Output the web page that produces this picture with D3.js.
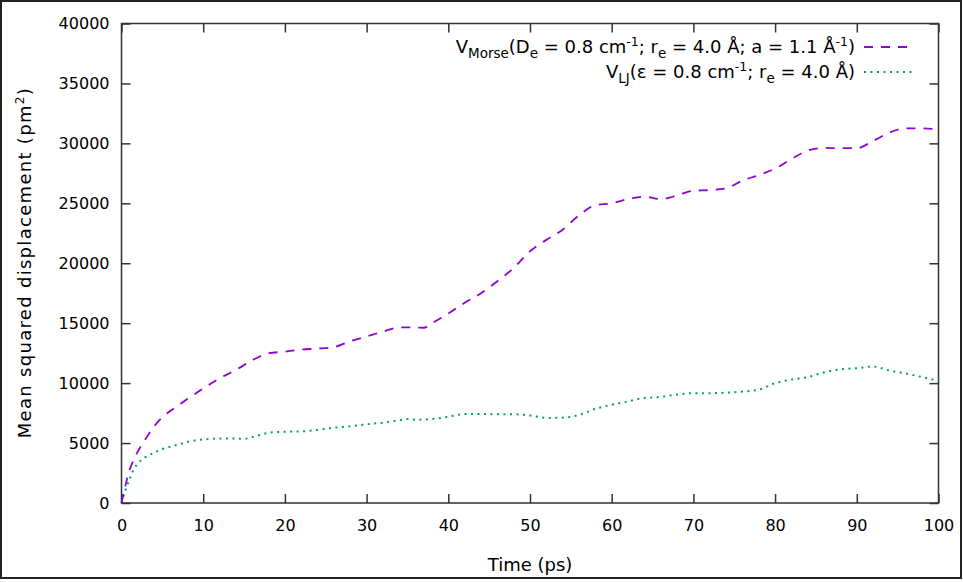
<!DOCTYPE html>
<html>
<head>
<meta charset="utf-8">
<script src="https://cdn.jsdelivr.net/npm/d3@7"></script>
<style>
body{margin:0;background:#fff;}
text{font-family:"DejaVu Sans",sans-serif;fill:#000;}
</style>
</head>
<body>
<svg id="c" width="963" height="582"></svg>
<script>
const morseT = [0,0.5,1,1.5,2,3,4,5,6,7,8,9,10,12,14,16,18,20,22,24,26,28,30,32,34,36,37,38,40,42,44,46,48,50,52,54,56,58,60,62,64,66,68,70,72,74,76,78,80,82,84,86,88,90,92,94,96,98,100];
const morseV = [0,1500,2800,3600,4300,5400,6400,7150,7700,8150,8650,9100,9550,10400,11100,11900,12500,12620,12800,12880,13000,13500,13900,14300,14650,14640,14620,15000,15800,16700,17500,18500,19600,21000,21950,22800,24000,24850,25000,25350,25550,25350,25650,26050,26100,26250,26900,27350,27900,28700,29400,29620,29600,29600,30200,30900,31250,31250,31150];
const ljT = [0,0.5,1,1.5,2,3,4,5,6,7,8,9,10,12,14,15,16,18,20,22,24,26,28,30,32,34,35,36,38,40,42,44,46,48,50,52,54,56,58,60,62,64,66,68,70,72,74,76,78,80,82,84,86,88,90,92,94,96,98,100];
const ljV = [0,1100,2000,2800,3300,3850,4200,4500,4700,4880,5080,5220,5300,5380,5380,5350,5500,5850,5950,5970,6100,6280,6400,6570,6700,6900,7000,6950,7000,7200,7420,7420,7400,7400,7300,7100,7120,7350,7850,8200,8480,8760,8850,9050,9160,9160,9200,9300,9450,10000,10300,10500,10900,11150,11250,11380,11050,10800,10500,10200];
const xTicks = [0,10,20,30,40,50,60,70,80,90,100];
const yTicks = [0,5000,10000,15000,20000,25000,30000,35000,40000];
const xLabel = "Time (ps)";
const yLabelMain = "Mean squared displacement (pm";

const svg = d3.select("#c");
const L=121.5, R=938.5, T=23.5, B=503;
const x = d3.scaleLinear().domain([0,100]).range([L,R]);
const y = d3.scaleLinear().domain([0,40000]).range([B,T]);

// outer frame
svg.append("rect").attr("x",1).attr("y",1).attr("width",960).attr("height",577)
  .attr("fill","none").attr("stroke","#222").attr("stroke-width",2);

const tl = 9;
const axisStyle = g => { g.select(".domain").remove(); g.selectAll("line").attr("stroke","#333").attr("stroke-width",1.5); };

svg.append("g").attr("transform",`translate(0,${B})`)
  .call(d3.axisBottom(x).tickValues(xTicks).tickSize(-tl).tickPadding(17).tickFormat(d3.format("d")))
  .call(axisStyle).call(g=>g.selectAll("text").attr("font-size",16).attr("font-family","DejaVu Sans"));
svg.append("g").attr("transform",`translate(0,${T})`)
  .call(d3.axisTop(x).tickValues(xTicks).tickSize(-tl).tickFormat(""))
  .call(axisStyle);
svg.append("g").attr("transform",`translate(${L},0)`)
  .call(d3.axisLeft(y).tickValues(yTicks).tickSize(-tl).tickPadding(12).tickFormat(d3.format("d")))
  .call(axisStyle).call(g=>g.selectAll("text").attr("font-size",16).attr("font-family","DejaVu Sans"));
svg.append("g").attr("transform",`translate(${R},0)`)
  .call(d3.axisRight(y).tickValues(yTicks).tickSize(-tl).tickFormat(""))
  .call(axisStyle);

svg.append("rect").attr("x",L).attr("y",T).attr("width",R-L).attr("height",B-T)
  .attr("fill","none").attr("stroke","#333").attr("stroke-width",1.5);

const line = d3.line().curve(d3.curveMonotoneX);
const morse = morseT.map((t,i)=>[x(t),y(morseV[i])]);
const lj = ljT.map((t,i)=>[x(t),y(ljV[i])]);

svg.append("path").attr("d",line(lj)).attr("fill","none").attr("stroke","#009e73")
  .attr("stroke-width",2).attr("stroke-dasharray","2,4.5");
svg.append("path").attr("d",line(morse)).attr("fill","none").attr("stroke","#9400d3")
  .attr("stroke-width",1.8).attr("stroke-dasharray","9,8");

// axis labels
svg.append("text").attr("x",(L+R)/2).attr("y",571).attr("text-anchor","middle")
  .attr("font-size",18).text(xLabel);
const yl = svg.append("text").attr("transform",`translate(31,${(T+B)/2}) rotate(-90)`).attr("text-anchor","middle")
  .attr("font-size",18).attr("textLength",350).attr("lengthAdjust","spacing");
yl.append("tspan").text(yLabelMain);
yl.append("tspan").attr("dy",-7).attr("font-size",12).text("2");
yl.append("tspan").attr("dy",7).text(")");

// legend
const lg = svg.append("g");
function legendEntry(yb, parts, color, dash, sw){
  const t = lg.append("text").attr("x",855).attr("y",yb).attr("text-anchor","end").attr("font-size",18);
  let shift = 0;
  parts.forEach(p=>{
    const ts = t.append("tspan").text(p[0]);
    let target = 0, fs = 18;
    if(p[1]==="sub"){target=5; fs=13.5;}
    if(p[1]==="sup"){target=-7; fs=12.5;}
    ts.attr("dy", target-shift).attr("font-size",fs);
    shift = target;
  });
  lg.append("line").attr("x1",864).attr("x2",915).attr("y1",yb-6).attr("y2",yb-6)
    .attr("stroke",color).attr("stroke-width",sw).attr("stroke-dasharray",dash);
}
legendEntry(53, [["V"],["Morse","sub"],["(D"],["e","sub"],[" = 0.8 cm"],["-1","sup"],["; r"],["e","sub"],[" = 4.0 Å; a = 1.1 Å"],["-1","sup"],[")"]], "#9400d3","9,8",1.8);
legendEntry(78, [["V"],["LJ","sub"],["(ε = 0.8 cm"],["-1","sup"],["; r"],["e","sub"],[" = 4.0 Å)"]], "#009e73","2,4.5",2);
</script>
</body>
</html>
